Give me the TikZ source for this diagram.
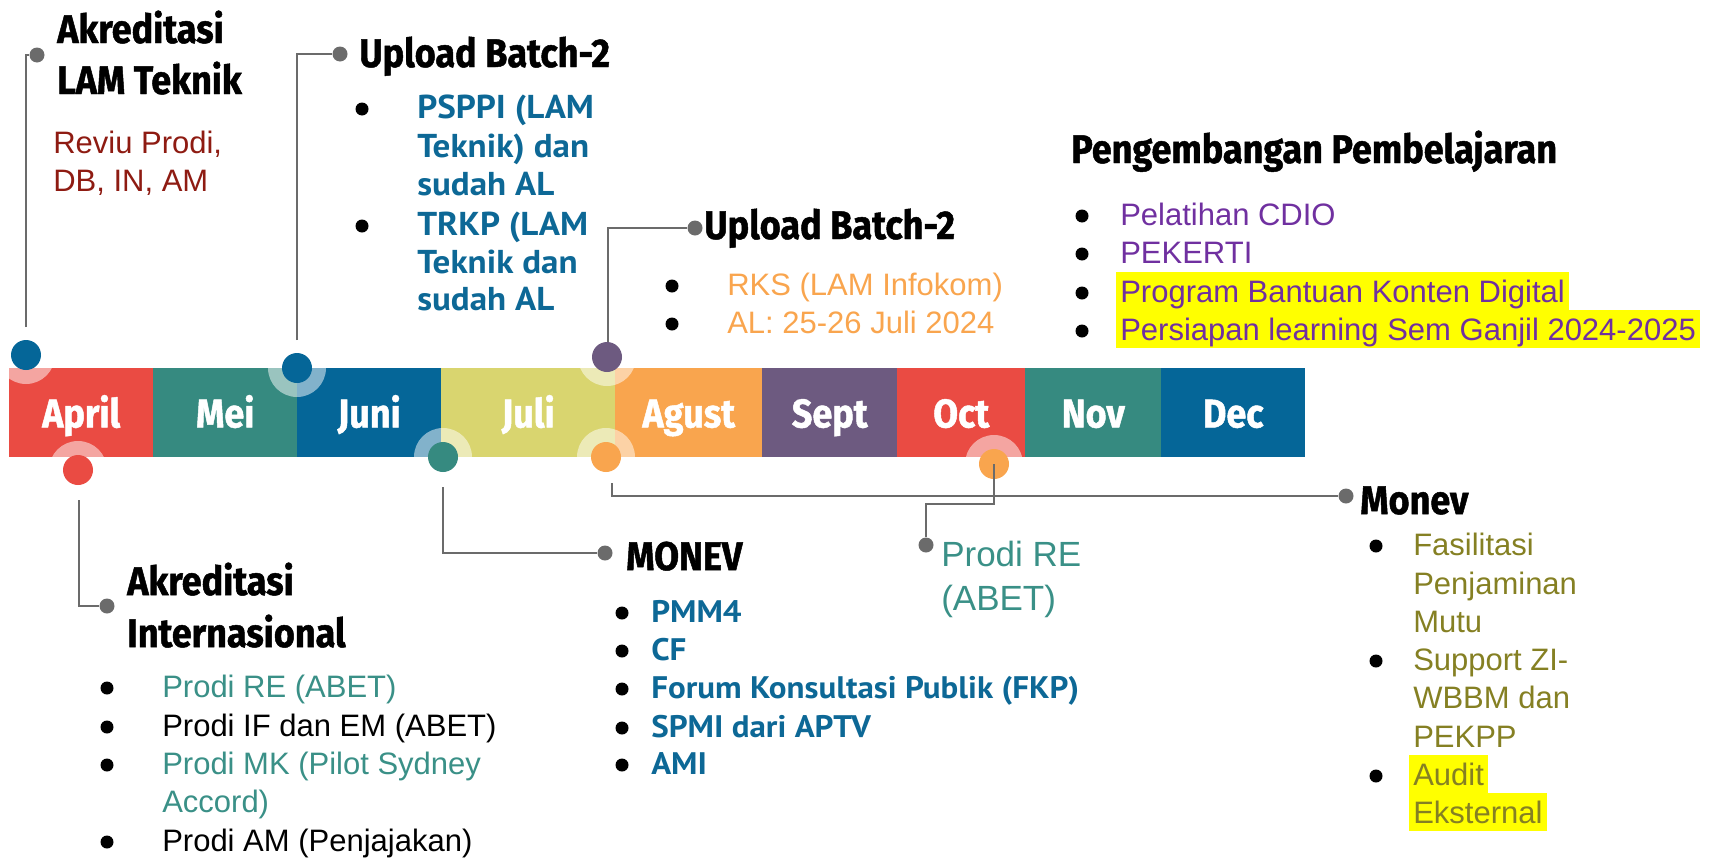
\documentclass[tikz,border=0pt]{standalone}
\usepackage{fontspec}
\setmainfont{Liberation Sans}
\newfontfamily\headfont{Fira Sans}[FakeStretch=0.9, BoldFeatures={FakeBold=1.2}]
\newfontfamily\bbfont{PT Sans}[FakeStretch=1.06]
\definecolor{cred}{HTML}{EA4B43}
\definecolor{cteal}{HTML}{368A80}
\definecolor{cblue}{HTML}{056698}
\definecolor{cyel}{HTML}{D9D56F}
\definecolor{corange}{HTML}{F9A54E}
\definecolor{cpurple}{HTML}{6D5A80}
\definecolor{tdred}{HTML}{8E1B12}
\definecolor{tblue}{HTML}{0D6896}
\definecolor{tpurple}{HTML}{7030A0}
\definecolor{tteal}{HTML}{3A9087}
\definecolor{tolive}{HTML}{858023}
\definecolor{cgray}{HTML}{6B6B6B}
\definecolor{hl}{HTML}{FFFF00}
\tikzset{
  seg/.style={anchor=north west, inner sep=0, minimum height=66.75pt, text=white,
    font=\headfont\bfseries\fontsize{30pt}{36pt}\selectfont, text height=22pt, text depth=0pt},
  head/.style={font=\headfont\bfseries\fontsize{30pt}{36pt}\selectfont, anchor=base west, inner sep=0},
  body/.style={font=\fontsize{23.25pt}{28pt}\selectfont, anchor=base west, inner sep=0},
  bb/.style={font=\bbfont\bfseries\fontsize{24.8pt}{28pt}\selectfont, text=tblue, anchor=base west, inner sep=0},
  bbs/.style={font=\bbfont\bfseries\fontsize{23.35pt}{28pt}\selectfont, text=tblue, anchor=base west, inner sep=0},
  bul/.style={circle, fill=black, minimum size=9.75pt, inner sep=0},
  hlt/.style={fill=hl, text height=22.5pt, text depth=6pt, inner xsep=3pt, inner ysep=0},
  dot/.style={circle, minimum size=22.5pt, inner sep=0},
  gdot/.style={circle, fill=cgray, minimum size=11.25pt, inner sep=0},
  conn/.style={draw=cgray, line width=2.2pt},
  ring/.style={fill=white, fill opacity=0.5}
}
\begin{document}
\begin{tikzpicture}[x=0.75pt, y=-0.75pt]
\useasboundingbox (0,0) rectangle (1712,857);
% month bar
\node[seg, fill=cred, minimum width=108pt] (m1) at (9,368) {April};
\node[seg, fill=cteal, minimum width=108pt] (m2) at (153,368) {Mei};
\node[seg, fill=cblue, minimum width=108pt] (m3) at (297,368) {Juni};
\node[seg, fill=cyel, minimum width=130.5pt] (m4) at (441,368) {Juli};
\node[seg, fill=corange, minimum width=110.25pt] (m5) at (615,368) {Agust};
\node[seg, fill=cpurple, minimum width=101.25pt] (m6) at (762,368) {Sept};
\node[seg, fill=cred, minimum width=96pt] (m7) at (897,368) {Oct};
\node[seg, fill=cteal, minimum width=102pt] (m8) at (1025,368) {Nov};
\node[seg, fill=cblue, minimum width=108pt] (m9) at (1161,368) {Dec};
% dot positions
\coordinate (pA) at (26,355);
\coordinate (pJ) at (297,368);
\coordinate (pP) at (607,357);
\coordinate (pR) at (78,470);
\coordinate (pT) at (443,457);
\coordinate (pO) at (606,457);
\coordinate (pQ) at (994,464);
% rings
\foreach \p in {pA,pJ,pP,pR,pT,pO,pQ} \fill[ring] (\p) circle (21.75pt);
% connectors (start points)
\coordinate (c1) at (26,327);
\coordinate (c2) at (297,340);
\coordinate (c3) at (608,350);
\coordinate (c4) at (79,500);
\coordinate (c5) at (443,487);
\coordinate (c6) at (612,483);
\coordinate (k7) at (994,504);
% gray end dots
\node[gdot] (g1) at (37,55) {};
\node[gdot] (g2) at (340,54) {};
\node[gdot] (g3) at (695,228) {};
\node[gdot] (g4) at (107,606) {};
\node[gdot] (g5) at (605,553) {};
\node[gdot] (g6) at (1346,496) {};
\node[gdot] (g7) at (926,545) {};
\draw[conn] (c1) |- (g1);
\draw[conn] (c2) |- (g2);
\draw[conn] (c3) |- (g3);
\draw[conn] (c4) |- (g4);
\draw[conn] (c5) |- (g5);
\draw[conn] (c6) |- (g6);
% colored dots
\node[dot, fill=cblue] (dA) at (pA) {};
\node[dot, fill=cblue] (dJ) at (pJ) {};
\node[dot, fill=cpurple] (dP) at (pP) {};
\node[dot, fill=cred] (dR) at (pR) {};
\node[dot, fill=cteal] (dT) at (pT) {};
\node[dot, fill=corange] (dO) at (pO) {};
\node[dot, fill=corange] (dQ) at (pQ) {};
\draw[conn] (dQ.center) -- (k7) -| (g7);
% Akreditasi LAM Teknik
\node[head] (t1a) at (57,43) {Akreditasi};
\node[head] (t1b) at (57,94) {LAM Teknik};
\node[body, text=tdred] (r1) at (53,153) {Reviu Prodi,};
\node[body, text=tdred] (r2) at (53,191) {DB, IN, AM};
% Upload Batch-2 (1)
\node[head] (t2) at (359,67) {Upload Batch-2};
\node[bul] (b21) at (362,109) {};
\node[bul] (b22) at (362,226) {};
\node[bb] (u1) at (417,118) {PSPPI (LAM};
\node[bb] (u2) at (417,157) {Teknik) dan};
\node[bb] (u3) at (417,195) {sudah AL};
\node[bb] (u4) at (417,235) {TRKP (LAM};
\node[bb] (u5) at (417,273) {Teknik dan};
\node[bb] (u6) at (417,310) {sudah AL};
% Upload Batch-2 (2)
\node[head] (t3) at (704,239) {Upload Batch-2};
\node[bul] (b31) at (672,286) {};
\node[bul] (b32) at (672,324) {};
\node[body, text=corange] (v1) at (727,295) {RKS (LAM Infokom)};
\node[body, text=corange] (v2) at (727,333) {AL: 25-26 Juli 2024};
% Pengembangan Pembelajaran
\node[head] (t4) at (1071,163) {Pengembangan Pembelajaran};
\node[bul] (b41) at (1082,216) {};
\node[bul] (b42) at (1082,254) {};
\node[bul] (b43) at (1082,293) {};
\node[bul] (b44) at (1082,331) {};
\node[body, text=tpurple] (w1) at (1120,225) {Pelatihan CDIO};
\node[body, text=tpurple] (w2) at (1120,263) {PEKERTI};
\node[body, text=tpurple, hlt] (w3) at (1116,302) {Program Bantuan Konten Digital};
\node[body, text=tpurple, hlt] (w4) at (1116,340) {Persiapan learning Sem Ganjil 2024-2025};
% Akreditasi Internasional
\node[head] (t5a) at (127,595) {Akreditasi};
\node[head] (t5b) at (127,647) {Internasional};
\node[bul] (b51) at (107,688) {};
\node[bul] (b52) at (107,727) {};
\node[bul] (b53) at (107,765) {};
\node[bul] (b54) at (107,842) {};
\node[body, text=tteal] (x1) at (162,697) {Prodi RE (ABET)};
\node[body] (x2) at (162,736) {Prodi IF dan EM (ABET)};
\node[body, text=tteal] (x3) at (162,774) {Prodi MK (Pilot Sydney};
\node[body, text=tteal] (x4) at (162,812) {Accord)};
\node[body] (x5) at (162,851) {Prodi AM (Penjajakan)};
% MONEV
\node[head] (t6) at (626,570) {MONEV};
\node[bul] (b61) at (622,613) {};
\node[bul] (b62) at (622,651) {};
\node[bul] (b63) at (622,689) {};
\node[bul] (b64) at (622,728) {};
\node[bul] (b65) at (622,765) {};
\node[bbs] (y1) at (651,622) {PMM4};
\node[bbs] (y2) at (651,660) {CF};
\node[bbs] (y3) at (651,698) {Forum Konsultasi Publik (FKP)};
\node[bbs] (y4) at (651,737) {SPMI dari APTV};
\node[bbs] (y5) at (651,774) {AMI};
% Prodi RE (ABET)
\node[body, font=\fontsize{26.25pt}{30pt}\selectfont, text=tteal] (z1) at (941,566) {Prodi RE};
\node[body, font=\fontsize{26.25pt}{30pt}\selectfont, text=tteal] (z2) at (941,610) {(ABET)};
% Monev
\node[head] (t8) at (1360,514) {Monev};
\node[bul] (b81) at (1376,546) {};
\node[bul] (b82) at (1376,661) {};
\node[bul] (b83) at (1376,776) {};
\node[body, text=tolive] (q1) at (1413,555) {Fasilitasi};
\node[body, text=tolive] (q2) at (1413,594) {Penjaminan};
\node[body, text=tolive] (q3) at (1413,632) {Mutu};
\node[body, text=tolive] (q4) at (1413,670) {Support ZI-};
\node[body, text=tolive] (q5) at (1413,708) {WBBM dan};
\node[body, text=tolive] (q6) at (1413,747) {PEKPP};
\node[body, text=tolive, hlt] (q7) at (1409,785) {Audit};
\node[body, text=tolive, hlt] (q8) at (1409,823) {Eksternal};
\end{tikzpicture}
\end{document}
